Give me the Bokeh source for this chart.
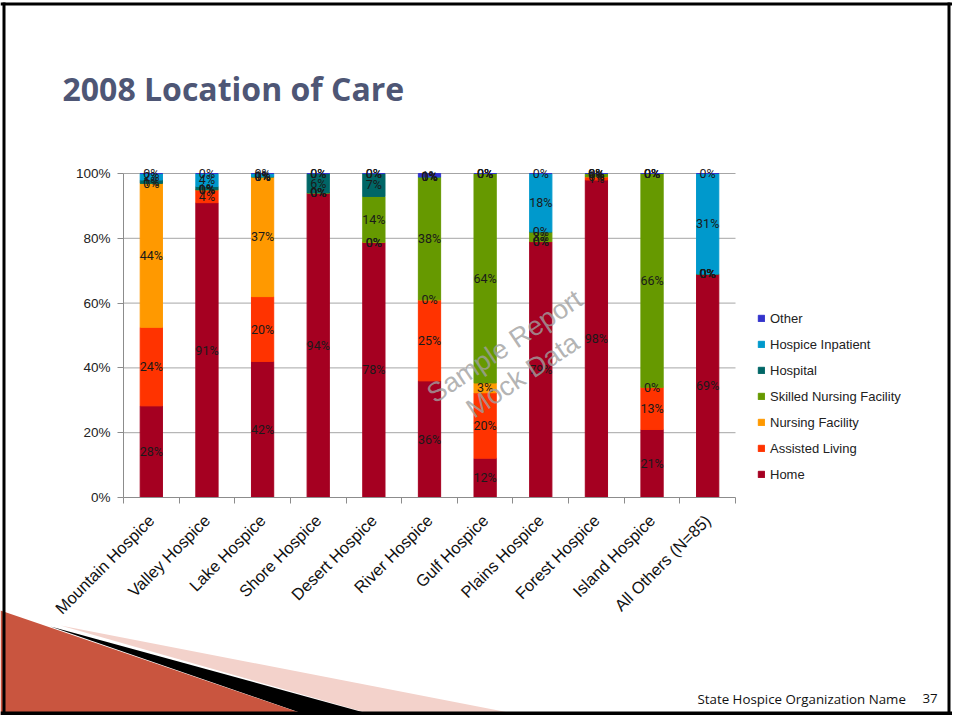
import numpy as np
from bokeh.plotting import figure
from bokeh.models import (ColumnDataSource, Range1d, FixedTicker, PrintfTickFormatter,
                          Legend, LegendItem, Label, PolyAnnotation)
from bokeh.core.properties import value
from bokeh.embed import file_html
from bokeh.resources import INLINE

# ---------------- data ----------------
categories = ["Mountain Hospice", "Valley Hospice", "Lake Hospice", "Shore Hospice",
              "Desert Hospice", "River Hospice", "Gulf Hospice", "Plains Hospice",
              "Forest Hospice", "Island Hospice", "All Others (N=85)"]
series_names = ["Home", "Assisted Living", "Nursing Facility", "Skilled Nursing Facility",
                "Hospital", "Hospice Inpatient", "Other"]
home              = [28, 91, 42, 94, 78, 36, 12, 79, 98, 21, 69]
assisted_living   = [24, 4, 20, 0, 0, 25, 20, 0, 1, 13, 0]
nursing_facility  = [44, 0, 37, 0, 0, 0, 3, 0, 0, 0, 0]
skilled_nursing   = [0, 0, 0, 0, 14, 38, 64, 3, 1, 66, 0]
hospital          = [1, 1, 0, 6, 7, 0, 0, 0, 0, 0, 0]
hospice_inpatient = [2, 4, 1, 0, 0, 0, 0, 18, 0, 0, 31]
other             = [0, 0, 0, 0, 0, 1, 0, 0, 0, 0, 0]
colors = ["#A50021", "#FF3300", "#FF9900", "#669900", "#006666", "#0099CC", "#3333CC"]
y_ticks = [0, 20, 40, 60, 80, 100]

# ---------------- prep ----------------
raw = np.array([home, assisted_living, nursing_facility, skilled_nursing,
                hospital, hospice_inpatient, other], dtype=float)
norm = raw / raw.sum(axis=0) * 100.0
n = len(categories)
xc = np.arange(n) + 0.5
keys = ["s%d" % i for i in range(len(series_names))]
data = {"x": xc}
for k, row in zip(keys, norm):
    data[k] = row
src = ColumnDataSource(data)

# ---------------- layout (pixels on the page) ----------------
W, H = 952, 715
PL, PR, PT, PB = 123, 735, 173, 497       # plot-area edges
kx = (PR - PL) / n                          # px per category
ky = (PB - PT) / 100.0                      # px per percent
x_range = Range1d(-PL / kx, (W - PL) / kx)
y_range = Range1d(-(H - PB) / ky, 100 + PT / ky)

FONT = "Liberation Sans"
LABEL_FONT = "Roboto"

p = figure(width=W, height=H, output_backend="svg", toolbar_location=None,
           x_range=x_range, y_range=y_range, min_border=0,
           min_border_left=0, min_border_right=0, min_border_top=0, min_border_bottom=0)
p.outline_line_color = None
p.background_fill_color = "white"
p.border_fill_color = "white"

# slide decorations
def poly(xs, ys, color):
    p.add_layout(PolyAnnotation(xs=xs, ys=ys, xs_units="canvas", ys_units="canvas",
                                fill_color=color, fill_alpha=1.0, line_color=None,
                                level="underlay"))

poly([60, 560, 400], [625, 722, 722], "#F3D2CB")
poly([50, 400, 328], [626, 722, 722], "#000000")
poly([0, 328, 0], [610, 722, 722], "#C9553F")
poly([0, W, W, 0], [2, 2, 5, 5], "#000000")
poly([2, 5, 5, 2], [2, 2, H, H], "#000000")
poly([W - 5, W - 2, W - 2, W - 5], [2, 2, H, H], "#000000")
poly([0, W, W, 0], [711, 711, 715, 715], "#000000")

# grid lines
p.segment(x0=0, x1=n, y0=y_ticks[1:], y1=y_ticks[1:], line_color="#A6A6A6", line_width=1)

renderers = p.vbar_stack(keys, x="x", width=0.4, color=colors, source=src)

# data labels
for i, name in enumerate(series_names):
    bottom = norm[:i].sum(axis=0)
    mid = bottom + norm[i] / 2.0
    lsrc = ColumnDataSource({"x": xc, "y": mid, "t": ["%d%%" % v for v in raw[i]]})
    p.text(x="x", y="y", text="t", source=lsrc, text_font=value(LABEL_FONT),
           text_font_size="12.5px", text_align="center", text_baseline="middle",
           text_color="#1a1a1a")

# axes
p.xaxis.fixed_location = 0
p.xaxis.bounds = (0, n)
p.xaxis.ticker = FixedTicker(ticks=list(xc), minor_ticks=list(range(n + 1)))
p.xaxis.major_label_overrides = {float(x): c for x, c in zip(xc, categories)}
p.xaxis.major_label_orientation = np.pi / 4
p.xaxis.major_tick_out = 0
p.xaxis.major_tick_in = 0
p.xaxis.minor_tick_out = 6
p.xaxis.minor_tick_in = 0
p.xaxis.minor_tick_line_color = "#8C8C8C"
p.xaxis.axis_line_color = "#8C8C8C"
p.xaxis.major_label_text_font = FONT
p.xaxis.major_label_text_font_size = "16.5px"
p.xaxis.major_label_text_color = "#111111"
p.xaxis.major_label_standoff = 14

p.yaxis.fixed_location = 0
p.yaxis.bounds = (0, 100)
p.yaxis.ticker = FixedTicker(ticks=y_ticks, minor_ticks=[])
p.yaxis.formatter = PrintfTickFormatter(format="%d%%")
p.yaxis.major_tick_out = 6
p.yaxis.major_tick_in = 0
p.yaxis.major_tick_line_color = "#8C8C8C"
p.yaxis.axis_line_color = "#8C8C8C"
p.yaxis.major_label_text_font = FONT
p.yaxis.major_label_text_font_size = "13.5px"
p.yaxis.major_label_text_color = "#222222"
p.yaxis.major_label_standoff = 7

p.grid.visible = False

# legend
items = [LegendItem(label=series_names[i], renderers=[renderers[i]])
         for i in reversed(range(len(series_names)))]
legend = Legend(items=items, location=(757, H - 484), padding=0, margin=0, spacing=6,
                label_height=20, glyph_height=8, glyph_width=8, label_standoff=5,
                label_text_font=FONT, label_text_font_size="13px",
                label_text_color="#222222", border_line_color=None,
                background_fill_alpha=0)
p.add_layout(legend)

# title, footer, watermark
p.add_layout(Label(x=62, y=88, x_units="canvas", y_units="canvas",
                   text="2008 Location of Care", text_font="Open Sans",
                   text_font_style="bold", text_font_size="32px",
                   text_color="#4E5675", text_baseline="middle"))
p.add_layout(Label(x=697, y=698, x_units="canvas", y_units="canvas",
                   text="State Hospice Organization Name", text_font="Open Sans",
                   text_font_size="13.3px", text_color="#111111", text_baseline="middle"))
p.add_layout(Label(x=922, y=698, x_units="canvas", y_units="canvas",
                   text="37", text_font="Open Sans",
                   text_font_size="13.3px", text_color="#111111", text_baseline="middle"))
for txt, cx, cy in (("Sample Report", 504, 346), ("Mock Data", 522, 375)):
    p.add_layout(Label(x=cx, y=cy, x_units="canvas", y_units="canvas", text=txt,
                       angle=0.59, text_font=FONT, text_font_size="27px",
                       text_color="#A0A0A0", text_alpha=0.8, text_align="center",
                       text_baseline="middle"))

open("out.html", "w").write(file_html(p, INLINE))
